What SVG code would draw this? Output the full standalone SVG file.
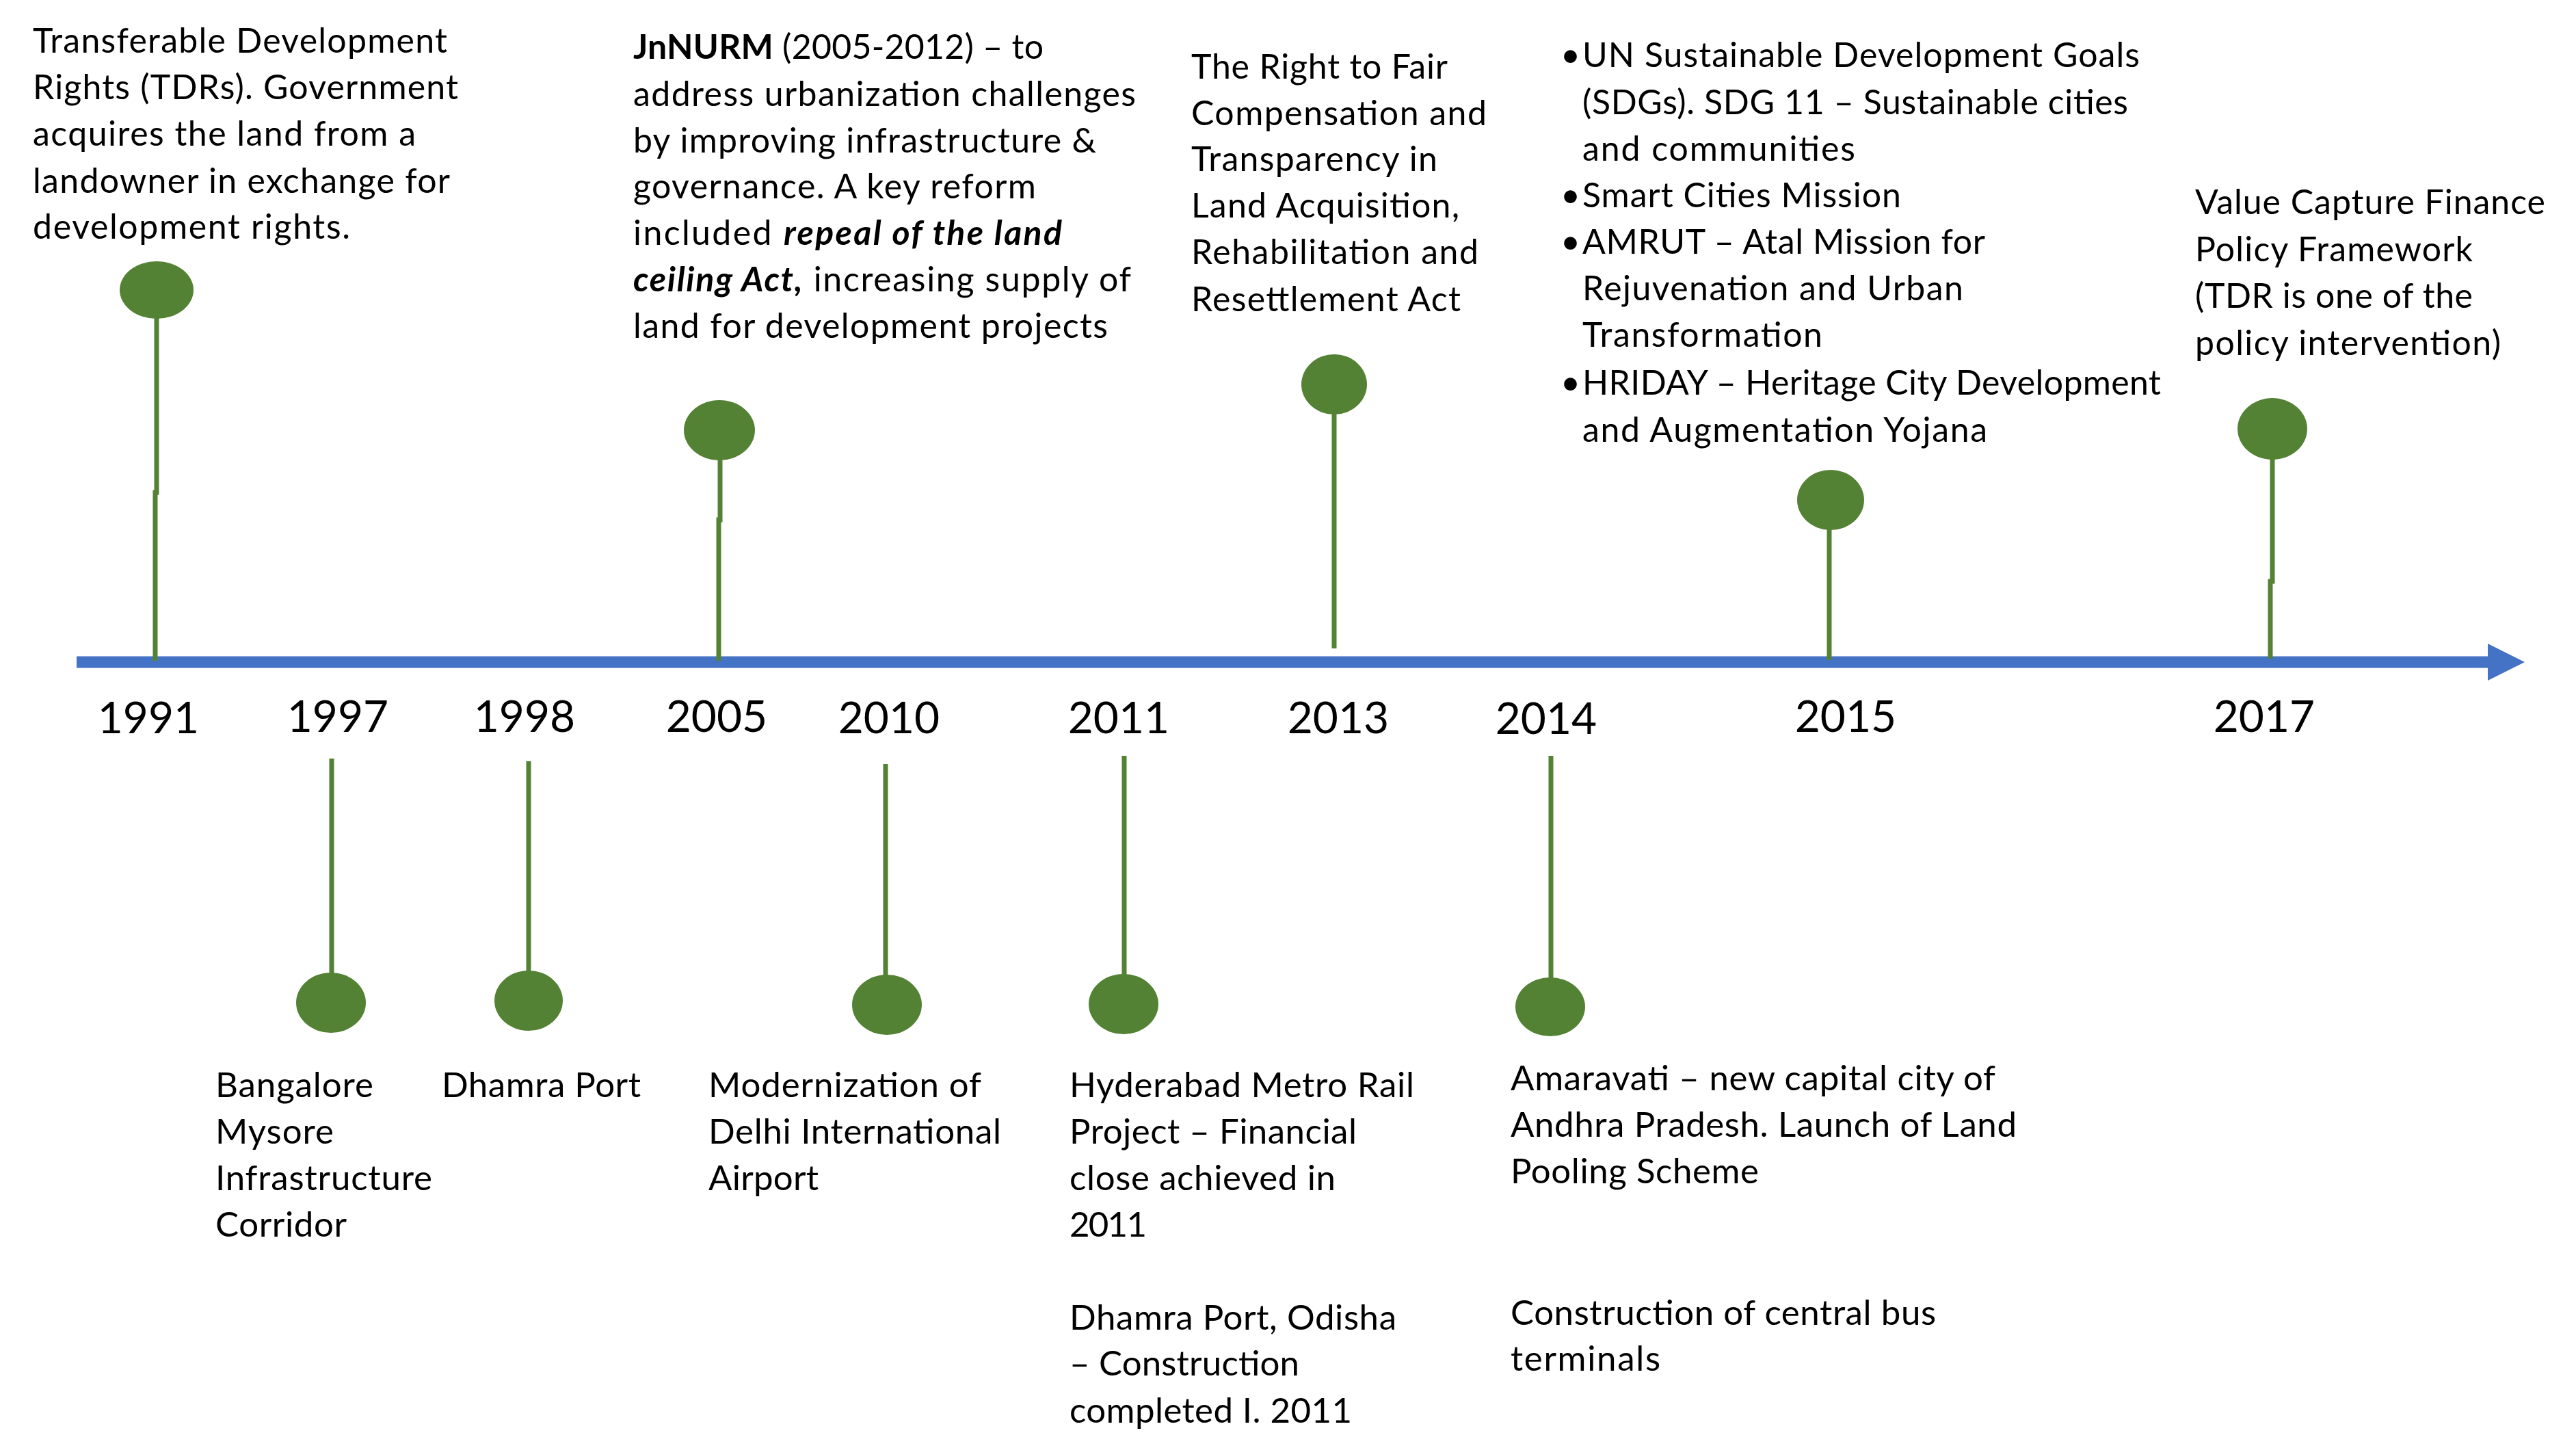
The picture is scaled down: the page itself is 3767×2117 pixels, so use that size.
<svg xmlns="http://www.w3.org/2000/svg" width="3767" height="2117" viewBox="0 0 3767 2117">
<style>
.t{font-family:Lato,'Liberation Sans',sans-serif;font-size:50px;fill:#000}
.bt{font-family:Lato,'Liberation Sans',sans-serif;font-size:51px;fill:#000}
.yr{font-family:Lato,'Liberation Sans',sans-serif;font-size:64px;fill:#000;text-anchor:middle}
.dot{fill:#548235}
.stem{stroke:#548235;stroke-width:7;fill:none}
.axis{stroke:#4472C4;stroke-width:17}
.bi{font-weight:bold;font-style:italic}
</style>
<rect width="3767" height="2117" fill="#fff"/>
<g id="connectors">
<line class="axis" x1="112" y1="968" x2="3645" y2="968"/>
<polygon points="3638,941 3692,968 3638,995" fill="#4472C4"/>
<polyline class="stem" points="229,465 229,720 227,720 227,966"/>
<polyline class="stem" points="1053,672 1053,760 1051,760 1051,966"/>
<line class="stem" x1="1951" y1="605" x2="1951" y2="948"/>
<line class="stem" x1="2675" y1="774" x2="2675" y2="965"/>
<polyline class="stem" points="3323,671 3323,850 3320,850 3320,963"/>
<line class="stem" x1="485" y1="1109" x2="485" y2="1423"/>
<line class="stem" x1="773" y1="1113" x2="773" y2="1420"/>
<line class="stem" x1="1295" y1="1117" x2="1295" y2="1426"/>
<line class="stem" x1="1644" y1="1105" x2="1644" y2="1425"/>
<line class="stem" x1="2268" y1="1105" x2="2268" y2="1430"/>
</g>
<g id="y1991">
<ellipse class="dot" cx="229" cy="424" rx="54" ry="42"/>
<text class="yr" x="217" y="1072">1991</text>
<text class="t" x="48" y="77" textLength="606">Transferable Development</text>
<text class="t" x="48" y="145" textLength="622">Rights (TDRs). Government</text>
<text class="t" x="48" y="213" textLength="560">acquires the land from a</text>
<text class="t" x="48" y="282" textLength="610">landowner in exchange for</text>
<text class="t" x="48" y="349" textLength="464">development rights.</text>
</g>
<g id="y1997">
<ellipse class="dot" cx="484" cy="1466" rx="51" ry="44"/>
<text class="yr" x="494" y="1070">1997</text>
<text class="bt" x="315" y="1604" textLength="231">Bangalore</text>
<text class="bt" x="315" y="1672" textLength="173">Mysore</text>
<text class="bt" x="315" y="1740" textLength="317">Infrastructure</text>
<text class="bt" x="315" y="1808" textLength="192">Corridor</text>
</g>
<g id="y1998">
<ellipse class="dot" cx="773" cy="1463" rx="50" ry="44"/>
<text class="yr" x="767" y="1070">1998</text>
<text class="bt" x="646" y="1604" textLength="291">Dhamra Port</text>
</g>
<g id="y2005">
<ellipse class="dot" cx="1052" cy="629" rx="52" ry="44"/>
<text class="yr" x="1048" y="1070">2005</text>
<text class="t" x="926" y="86" textLength="600"><tspan font-weight="bold">JnNURM</tspan> (2005-2012) – to</text>
<text class="t" x="926" y="155" textLength="735">address urbanization challenges</text>
<text class="t" x="926" y="223" textLength="677">by improving infrastructure &amp;</text>
<text class="t" x="926" y="290" textLength="589">governance. A key reform</text>
<text class="t" x="926" y="358" textLength="627">included <tspan class="bi">repeal of the land</tspan></text>
<text class="t" x="926" y="426" textLength="728"><tspan class="bi">ceiling Act,</tspan> increasing supply of</text>
<text class="t" x="926" y="494" textLength="694">land for development projects</text>
</g>
<g id="y2010">
<ellipse class="dot" cx="1297" cy="1469" rx="51" ry="44"/>
<text class="yr" x="1300" y="1072">2010</text>
<text class="bt" x="1036" y="1604" textLength="399">Modernization of</text>
<text class="bt" x="1036" y="1672" textLength="428">Delhi International</text>
<text class="bt" x="1036" y="1740" textLength="161">Airport</text>
</g>
<g id="y2011">
<ellipse class="dot" cx="1643" cy="1468" rx="51" ry="44"/>
<text class="yr" x="1636" y="1072">2011</text>
<text class="bt" x="1564" y="1604" textLength="504">Hyderabad Metro Rail</text>
<text class="bt" x="1564" y="1672" textLength="420">Project – Financial</text>
<text class="bt" x="1564" y="1740" textLength="389">close achieved in</text>
<text class="bt" x="1564" y="1808" textLength="113">2011</text>
<text class="bt" x="1564" y="1944" textLength="478">Dhamra Port, Odisha</text>
<text class="bt" x="1564" y="2011" textLength="336">– Construction</text>
<text class="bt" x="1564" y="2080" textLength="413">completed I. 2011</text>
</g>
<g id="y2013">
<ellipse class="dot" cx="1951" cy="562" rx="48" ry="44"/>
<text class="yr" x="1957" y="1072">2013</text>
<text class="t" x="1742" y="115" textLength="375">The Right to Fair</text>
<text class="t" x="1742" y="183" textLength="432">Compensation and</text>
<text class="t" x="1742" y="250" textLength="360">Transparency in</text>
<text class="t" x="1742" y="318" textLength="392">Land Acquisition,</text>
<text class="t" x="1742" y="386" textLength="420">Rehabilitation and</text>
<text class="t" x="1742" y="455" textLength="394">Resettlement Act</text>
</g>
<g id="y2014">
<ellipse class="dot" cx="2267" cy="1472" rx="51" ry="43"/>
<text class="yr" x="2261" y="1073">2014</text>
<text class="bt" x="2209" y="1594" textLength="709">Amaravati – new capital city of</text>
<text class="bt" x="2209" y="1662" textLength="740">Andhra Pradesh. Launch of Land</text>
<text class="bt" x="2209" y="1730" textLength="363">Pooling Scheme</text>
<text class="bt" x="2209" y="1937" textLength="622">Construction of central bus</text>
<text class="bt" x="2209" y="2004" textLength="219">terminals</text>
</g>
<g id="y2015">
<ellipse class="dot" cx="2677" cy="731" rx="49" ry="44"/>
<text class="yr" x="2699" y="1070">2015</text>
<text class="t" x="2282" y="98">•</text>
<text class="t" x="2314" y="98" textLength="815">UN Sustainable Development Goals</text>
<text class="t" x="2314" y="167" textLength="798">(SDGs). SDG 11 – Sustainable cities</text>
<text class="t" x="2314" y="235" textLength="399">and communities</text>
<text class="t" x="2282" y="303">•</text>
<text class="t" x="2314" y="303" textLength="466">Smart Cities Mission</text>
<text class="t" x="2282" y="371">•</text>
<text class="t" x="2314" y="371" textLength="589">AMRUT – Atal Mission for</text>
<text class="t" x="2314" y="439" textLength="557">Rejuvenation and Urban</text>
<text class="t" x="2314" y="507" textLength="351">Transformation</text>
<text class="t" x="2282" y="577">•</text>
<text class="t" x="2314" y="577" textLength="846">HRIDAY – Heritage City Development</text>
<text class="t" x="2314" y="646" textLength="592">and Augmentation Yojana</text>
</g>
<g id="y2017">
<ellipse class="dot" cx="3323" cy="627" rx="51" ry="45"/>
<text class="yr" x="3311" y="1070">2017</text>
<text class="t" x="3210" y="313" textLength="512">Value Capture Finance</text>
<text class="t" x="3210" y="382" textLength="406">Policy Framework</text>
<text class="t" x="3210" y="450" textLength="406">(TDR is one of the</text>
<text class="t" x="3210" y="519" textLength="447">policy intervention)</text>
</g>
</svg>
